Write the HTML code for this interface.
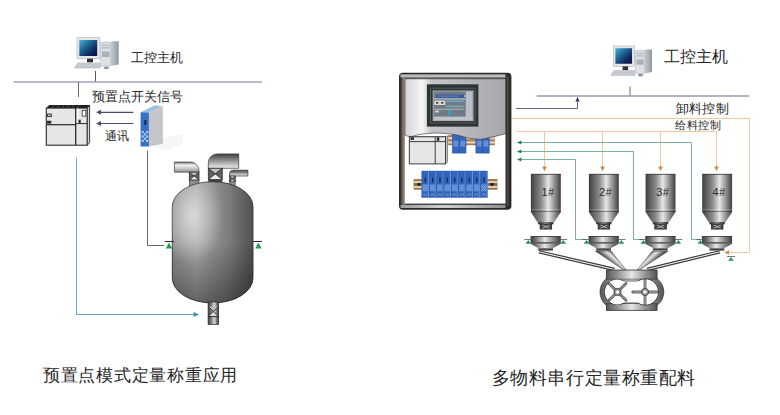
<!DOCTYPE html>
<html><head><meta charset="utf-8">
<style>
html,body{margin:0;padding:0;background:#fff;width:780px;height:415px;overflow:hidden}
svg{position:absolute;left:0;top:0}
.t{position:absolute;font-family:"Liberation Sans",sans-serif;color:#262626;font-weight:500;white-space:nowrap;line-height:1}
</style></head><body>
<svg width="780" height="415" viewBox="0 0 780 415">
<defs>
  <linearGradient id="metal" x1="0" x2="1" y1="0" y2="0">
    <stop offset="0" stop-color="#3c3c3c"/>
    <stop offset="0.25" stop-color="#707070"/>
    <stop offset="0.6" stop-color="#d8d8d8"/>
    <stop offset="0.85" stop-color="#6a6a6a"/>
    <stop offset="1" stop-color="#3a3a3a"/>
  </linearGradient>
  <linearGradient id="metalV" x1="0" x2="0" y1="0" y2="1">
    <stop offset="0" stop-color="#5a5a5a"/>
    <stop offset="0.5" stop-color="#e0e0e0"/>
    <stop offset="1" stop-color="#5a5a5a"/>
  </linearGradient>
  <radialGradient id="tank" cx="0.25" cy="0.3" r="0.9">
    <stop offset="0" stop-color="#ececec"/>
    <stop offset="0.45" stop-color="#8a8a8a"/>
    <stop offset="1" stop-color="#2e2e2e"/>
  </radialGradient>
  <linearGradient id="screen" x1="0" y1="0" x2="1" y2="1">
    <stop offset="0" stop-color="#3aa6cf"/>
    <stop offset="0.6" stop-color="#0c3c6a"/>
    <stop offset="1" stop-color="#0a1a40"/>
  </linearGradient>
  <linearGradient id="cabGray" x1="0" x2="1" y1="0" y2="0">
    <stop offset="0" stop-color="#c8c8cc"/>
    <stop offset="0.3" stop-color="#e8e8ea"/>
    <stop offset="1" stop-color="#a8a8ae"/>
  </linearGradient>
  <g id="pc">
    <linearGradient id="scr2" x1="0" y1="0" x2="1" y2="1">
      <stop offset="0" stop-color="#48b4d4"/>
      <stop offset="0.45" stop-color="#1a5a88"/>
      <stop offset="0.75" stop-color="#0c2458"/>
      <stop offset="1" stop-color="#12103a"/>
    </linearGradient>
    <linearGradient id="towSide" x1="0" y1="0" x2="1" y2="0">
      <stop offset="0" stop-color="#c6ccd2"/>
      <stop offset="1" stop-color="#8f98a2"/>
    </linearGradient>
    <rect x="5" y="3.7" width="23" height="21" fill="#e4e6e8" stroke="#b0b4b8" stroke-width="0.6"/>
    <rect x="7.3" y="6" width="17.9" height="16" fill="url(#scr2)"/>
    <rect x="15" y="24.7" width="6" height="3.8" fill="#2e3236"/>
    <path d="M2.3 33.4 L5.5 28.4 L28.2 28.4 L28.6 33.4 Z" fill="#c4cad0"/>
    <path d="M2.3 33.4 L28.6 33.4 L28.6 34.2 L2.8 34.2 Z" fill="#9aa2aa"/>
    <path d="M38.5 8.7 L40 7.3 L46.7 7.3 L46.7 30.5 L38.5 32 Z" fill="url(#towSide)"/>
    <path d="M28.8 8.7 L30.5 7.3 L40 7.3 L38.5 8.7 Z" fill="#e8ecf0"/>
    <rect x="28.8" y="8.7" width="9.7" height="23.3" fill="#dde1e5" stroke="#aab0b6" stroke-width="0.5"/>
    <rect x="30" y="10.5" width="7.5" height="1.6" fill="#b8bec4"/>
    <rect x="30" y="13" width="7.5" height="1.6" fill="#b8bec4"/>
    <rect x="30" y="17.5" width="7.5" height="5.5" fill="#a8b0b8"/>
    <ellipse cx="34.3" cy="33.8" rx="2.8" ry="1.4" fill="#8f98a2"/>
  </g>
</defs>

<!-- ================= LEFT ================= -->
<use href="#pc" x="72" y="34"/>
<line x1="95.5" y1="71" x2="95.5" y2="82" stroke="#555" stroke-width="1"/>
<line x1="13.5" y1="82" x2="262" y2="82" stroke="#a4a4ba" stroke-width="1.7"/>
<line x1="78.5" y1="82" x2="78.5" y2="97" stroke="#6a6a7a" stroke-width="1"/>

<!-- PLC -->
<g>
  <path d="M46.3 108.1 L49.2 105.1 L89.6 105.1 L87.3 108.1 Z" fill="#1e1e1e"/>
  <g stroke="#888" stroke-width="0.6"><path d="M52 107.8 L54 105.4 M57 107.8 L59 105.4 M62 107.8 L64 105.4 M67 107.8 L69 105.4 M72 107.8 L74 105.4 M77 107.8 L79 105.4"/></g>
  <rect x="46.3" y="108.1" width="41" height="37.1" fill="#e6e6e6" stroke="#2a2a2a" stroke-width="1.1"/>
  <path d="M87.3 108.1 L89.6 105.1 L89.6 142.6 L87.3 145.2 Z" fill="#d8d8d8" stroke="#2a2a2a" stroke-width="0.9"/>
  <line x1="75.7" y1="108.1" x2="75.7" y2="145.2" stroke="#2a2a2a" stroke-width="1.3"/>
  <line x1="46.3" y1="124.7" x2="75.7" y2="124.7" stroke="#2a2a2a" stroke-width="1.2"/>
  <line x1="75.7" y1="123.6" x2="87.3" y2="123.6" stroke="#2a2a2a" stroke-width="1"/>
  <rect x="47" y="113.6" width="4.8" height="3.4" fill="#2a2a2a"/>
  <rect x="47.8" y="114.5" width="3" height="1.6" fill="#ccc"/>
  <rect x="47" y="120.8" width="4.3" height="2.8" fill="#2a2a2a"/>
  <rect x="76.8" y="108.6" width="2" height="14.5" fill="#f4f4f4"/>
  <rect x="82.2" y="110.3" width="3.6" height="5.8" fill="#fff" stroke="#333" stroke-width="0.8"/>
  <rect x="78.5" y="119.7" width="2.2" height="3.3" fill="#2a2a2a"/>
</g>
<!-- arrows -->
<g stroke="#4a4a72" stroke-width="1.2" fill="#4a4a72">
  <line x1="99" y1="112.3" x2="133.3" y2="112.3"/>
  <path d="M96 112.3 L101 109.8 L101 114.8 Z" stroke="none"/>
  <line x1="99" y1="123.5" x2="133.3" y2="123.5"/>
  <path d="M96 123.5 L101 121 L101 126 Z" stroke="none"/>
</g>
<!-- blue device -->
<g>
  <path d="M150 146 L163 138 L183 134 L183 144 L166 150 Z" fill="#f6f6f6"/>
  <path d="M140.6 112.2 L154.9 105.3 L162.9 106.4 L148.9 112.6 Z" fill="#9cc0e0"/>
  <path d="M148.9 112.6 L162.9 106.4 L162.9 143.8 L148.9 146.4 Z" fill="#c4c6ca"/>
  <path d="M140.6 112.2 L148.9 112.6 L148.9 146.4 L140.6 146.4 Z" fill="#3470c4"/>
  <rect x="144.3" y="120" width="2" height="5" fill="#1a2a44"/>
  <g fill="#a8ccf0">
    <rect x="141.6" y="131" width="2.2" height="2.2"/><rect x="146" y="131" width="2.2" height="2.2"/>
    <rect x="143.8" y="133.2" width="2.2" height="2.2"/>
    <rect x="141.6" y="135.4" width="2.2" height="2.2"/><rect x="146" y="135.4" width="2.2" height="2.2"/>
    <rect x="143.8" y="137.6" width="2.2" height="2.2"/>
    <rect x="141.6" y="139.8" width="2.2" height="2.2"/><rect x="146" y="139.8" width="2.2" height="2.2"/>
  </g>
</g>
<!-- device to load cell line -->
<polyline points="147.5,150.5 147.5,245.5 164,245.5" fill="none" stroke="#666" stroke-width="1"/>

<!-- tank pipes -->
<defs>
  <linearGradient id="pipeL" x1="0" x2="0" y1="0" y2="1">
    <stop offset="0" stop-color="#6a6a6a"/>
    <stop offset="0.3" stop-color="#f2f2f2"/>
    <stop offset="0.7" stop-color="#c0c0c0"/>
    <stop offset="1" stop-color="#8a8a8a"/>
  </linearGradient>
  <linearGradient id="pipeD" x1="0" x2="0" y1="0" y2="1">
    <stop offset="0" stop-color="#3e3e3e"/>
    <stop offset="1" stop-color="#f0f0f0"/>
  </linearGradient>
  <linearGradient id="valveG" x1="0" x2="0" y1="0" y2="1">
    <stop offset="0" stop-color="#8a8a8a"/>
    <stop offset="1" stop-color="#5a5a5a"/>
  </linearGradient>
  <g id="valveX">
    <rect x="0" y="0" width="1" height="1" fill="#606060"/>
    <path d="M0 0 L1 0 L0.5 0.5 Z" fill="#c4c4c4"/>
    <path d="M0 1 L1 1 L0.5 0.5 Z" fill="#ececec"/>
  </g>
</defs>
<g>
  <!-- left pipe -->
  <path d="M174.4 162 L190.5 162 A8.5 8.5 0 0 1 199 170.5 L199 172.2 L189.3 172.2 L174.4 172.2 Z" fill="url(#pipeL)" stroke="#444" stroke-width="0.7"/>
  <rect x="189.3" y="179.9" width="9.7" height="5.8" fill="#8e8e8e" stroke="#444" stroke-width="0.7"/>
  <g transform="translate(189.3 172.2) scale(9.7 7.7)"><use href="#valveX"/></g>
  <path d="M189.3 172.2 L199 179.9 M199 172.2 L189.3 179.9" stroke="#333" stroke-width="0.8"/>
  <rect x="189.3" y="172.2" width="9.7" height="7.7" fill="none" stroke="#333" stroke-width="0.8"/>
  <!-- middle pipe -->
  <path d="M208.3 168.3 L208.3 163 A9 9 0 0 1 217.3 153.9 L238.7 153.9 L238.7 168.3 Z" fill="url(#pipeD)" stroke="#333" stroke-width="0.7"/>
  <g transform="translate(208.3 168.3) scale(14 11.1)"><use href="#valveX"/></g>
  <path d="M208.3 168.3 L222.3 179.4 M222.3 168.3 L208.3 179.4" stroke="#222" stroke-width="0.8"/>
  <rect x="208.3" y="168.3" width="14" height="11.1" fill="none" stroke="#333" stroke-width="0.8"/>
  <rect x="208.3" y="179.4" width="14" height="2.6" fill="#444"/>
  <!-- right pipe -->
  <path d="M229.5 176 L229.5 174 Q229.5 170.2 233.3 170.2 L247.9 170.2 L247.9 176 Z" fill="url(#pipeD)" stroke="#333" stroke-width="0.7"/>
  <g transform="translate(229.5 176) scale(5.8 5.8)"><use href="#valveX"/></g>
  <path d="M229.5 176 L235.3 181.8 M235.3 176 L229.5 181.8" stroke="#222" stroke-width="0.7"/>
  <rect x="229.5" y="176" width="5.8" height="5.8" fill="none" stroke="#333" stroke-width="0.7"/>
  <rect x="229.5" y="181.8" width="5.8" height="3.6" fill="#8a8a8a" stroke="#444" stroke-width="0.5"/>
</g>
<!-- tank body -->
<defs>
  <linearGradient id="tank2" x1="0" x2="1" y1="0" y2="0">
    <stop offset="0" stop-color="#8c8c8c"/>
    <stop offset="0.3" stop-color="#a6a6a6"/>
    <stop offset="0.7" stop-color="#7c7c7c"/>
    <stop offset="1" stop-color="#505050"/>
  </linearGradient>
  <radialGradient id="tankHi" cx="0.24" cy="0.28" r="0.4">
    <stop offset="0" stop-color="#fff" stop-opacity="0.6"/>
    <stop offset="1" stop-color="#fff" stop-opacity="0"/>
  </radialGradient>
  <linearGradient id="tankShade" x1="0" x2="0" y1="0" y2="1">
    <stop offset="0" stop-color="#000" stop-opacity="0"/>
    <stop offset="0.5" stop-color="#000" stop-opacity="0"/>
    <stop offset="1" stop-color="#000" stop-opacity="0.4"/>
  </linearGradient>
</defs>
<path id="tankP" d="M172.3 206.7 A40.35 25 0 0 1 253 206.7 L253 278 A40.35 25 0 0 1 172.3 278 Z" fill="url(#tank2)" stroke="#333" stroke-width="0.9"/>
<path d="M172.3 206.7 A40.35 25 0 0 1 253 206.7 L253 278 A40.35 25 0 0 1 172.3 278 Z" fill="url(#tankHi)"/>
<path d="M172.3 206.7 A40.35 25 0 0 1 253 206.7 L253 278 A40.35 25 0 0 1 172.3 278 Z" fill="url(#tankShade)"/>
<!-- bottom pipe -->
<rect x="208.1" y="302" width="10.5" height="22.5" fill="url(#metal)" stroke="#2e2e2e" stroke-width="0.7"/>
<path d="M208.5 306.4 L218.2 306.4 L213.35 311.4 Z" fill="#bcbcbc"/>
<path d="M208.5 316.4 L218.2 316.4 L213.35 311.4 Z" fill="#d8d8d8"/>
<path d="M208.1 306.4 L218.6 316.5 M218.6 306.4 L208.1 316.5" stroke="#222" stroke-width="0.8"/>
<line x1="208.1" y1="316.6" x2="218.6" y2="316.6" stroke="#222" stroke-width="0.9"/>
<!-- supports -->
<g>
  <line x1="164.9" y1="241.5" x2="174" y2="241.5" stroke="#2e2e2e" stroke-width="1"/>
  <path d="M169 242.4 L165.8 248.4 L172.2 248.4 Z" fill="#239a55"/>
  <line x1="253" y1="241.5" x2="262" y2="241.5" stroke="#2e2e2e" stroke-width="1"/>
  <path d="M258.4 242.4 L255.2 248.4 L261.6 248.4 Z" fill="#239a55"/>
</g>
<!-- blue line -->
<polyline points="76.5,157.5 76.5,314.5 196,314.5" fill="none" stroke="#68a8d8" stroke-width="1"/>
<path d="M199 314.5 L193.5 312 L193.5 317 Z" fill="#3a8cb8"/>

<!-- ================= RIGHT ================= -->
<use href="#pc" transform="translate(608.6 42.4) scale(0.93 0.97)"/>
<line x1="630" y1="86.5" x2="630" y2="96" stroke="#666" stroke-width="1"/>
<line x1="536.7" y1="96" x2="749" y2="96" stroke="#9898b0" stroke-width="1.7"/>
<polyline points="516,108.5 577.5,108.5 577.5,100" fill="none" stroke="#66668c" stroke-width="1"/>
<path d="M577.5 97 L575.3 101.5 L579.7 101.5 Z" fill="#3a3a66"/>

<!-- orange lines -->
<g stroke="#f4c6a0" stroke-width="1" fill="none">
  <polyline points="511.7,118.5 749.5,118.5 749.5,252.5 728,252.5"/>
  <line x1="516" y1="131.5" x2="716.5" y2="131.5"/>
  <line x1="544.5" y1="131.5" x2="544.5" y2="167"/>
  <line x1="602.5" y1="131.5" x2="602.5" y2="167"/>
  <line x1="660.5" y1="131.5" x2="660.5" y2="167"/>
  <line x1="716.5" y1="131.5" x2="716.5" y2="167"/>
</g>
<g fill="#d08848">
  <path d="M544.5 171.3 L542.2 166.5 L546.8 166.5 Z"/>
  <path d="M602.5 171.3 L600.2 166.5 L604.8 166.5 Z"/>
  <path d="M660.5 171.3 L658.2 166.5 L662.8 166.5 Z"/>
  <path d="M716.5 171.3 L714.2 166.5 L718.8 166.5 Z"/>
  <path d="M724.3 252.5 L729 250.2 L729 254.8 Z"/>
</g>
<!-- green lines -->
<g stroke="#78b494" stroke-width="1" fill="none">
  <polyline points="520,142.5 691.5,142.5 691.5,239.5 700,239.5"/>
  <polyline points="520,151.5 633.5,151.5 633.5,239.5 643,239.5"/>
  <polyline points="520,159.5 575.5,159.5 575.5,239.5 586,239.5"/>
</g>
<g fill="#2a7a4e">
  <path d="M517 142.5 L521.4 140.5 L521.4 144.5 Z"/>
  <path d="M517 151.5 L521.4 149.5 L521.4 153.5 Z"/>
  <path d="M517 159.5 L521.4 157.5 L521.4 161.5 Z"/>
</g>

<!-- cabinet -->
<defs>
  <linearGradient id="bevL" x1="0" x2="1" y1="0" y2="0">
    <stop offset="0" stop-color="#3a302a"/><stop offset="1" stop-color="#a8a29c"/>
  </linearGradient>
  <linearGradient id="bevT" x1="0" x2="0" y1="0" y2="1">
    <stop offset="0" stop-color="#9a9a9a"/><stop offset="0.5" stop-color="#c8c8c8"/><stop offset="1" stop-color="#a0a0a0"/>
  </linearGradient>
  <linearGradient id="bevB" x1="0" x2="1" y1="0" y2="0">
    <stop offset="0" stop-color="#9c9c9c"/><stop offset="0.4" stop-color="#d0d0d0"/><stop offset="1" stop-color="#8e8e8e"/>
  </linearGradient>
  <linearGradient id="panelG" x1="0" x2="1" y1="0" y2="0">
    <stop offset="0" stop-color="#d4d4d6"/><stop offset="0.17" stop-color="#f6f6f6"/><stop offset="0.26" stop-color="#c8c8cc"/><stop offset="0.6" stop-color="#b8b8bc"/><stop offset="1" stop-color="#a8a8ac"/>
  </linearGradient>
  <pattern id="chk" width="2.4" height="2.4" patternUnits="userSpaceOnUse">
    <rect width="2.4" height="2.4" fill="#3a6cc4"/>
    <rect width="1.2" height="1.2" fill="#8cb4ec"/><rect x="1.2" y="1.2" width="1.2" height="1.2" fill="#8cb4ec"/>
  </pattern>
  <g id="mod">
    <rect x="0" y="0" width="7.33" height="26.9" fill="#3364bc"/>
    <rect x="6.4" y="0" width="0.9" height="26.9" fill="#6a9ae0"/>
    <rect x="0" y="0" width="0.5" height="26.9" fill="#24509a"/>
    <rect x="3" y="6.5" width="1.3" height="5.3" rx="0.6" fill="#142a5a"/>
    <rect x="0.8" y="13.6" width="5.4" height="6.8" fill="url(#chk)"/>
    <rect x="1.3" y="22.8" width="4.5" height="1.8" fill="#5a88c8"/>
  </g>
  <g id="mod2">
    <rect x="0" y="0" width="6.8" height="19.4" fill="#3468c0" stroke="#244a90" stroke-width="0.5"/>
    <rect x="1" y="7" width="4.8" height="6" fill="url(#chk)"/>
  </g>
</defs>
<g>
  <rect x="399" y="72.8" width="112.4" height="136.9" rx="4" fill="#2c2826"/>
  <rect x="400.5" y="74.2" width="105" height="3.5" fill="url(#bevT)"/>
  <rect x="400.5" y="204.8" width="105" height="3.2" fill="url(#bevB)"/>
  <rect x="400.3" y="77.7" width="4.7" height="127" fill="url(#bevL)"/>
  <rect x="506.6" y="76" width="2.2" height="130" fill="#4a4542"/>
  <rect x="405" y="78.8" width="100.5" height="124.8" fill="#fff"/>
  <!-- upper rail + modules (behind panel) -->
  <rect x="448.1" y="135.1" width="46.7" height="10.1" fill="#a07a54"/>
  <rect x="448.1" y="137" width="46.7" height="2.4" fill="#e6d2b4"/>
  <rect x="448.1" y="141.3" width="46.7" height="2.2" fill="#e6d2b4"/>
  <g transform="translate(452.4 133.7)"><use href="#mod2"/></g>
  <g transform="translate(459.2 133.7)"><use href="#mod2"/></g>
  <g transform="translate(475.9 133.7)"><use href="#mod2"/></g>
  <g transform="translate(482.4 133.7)"><use href="#mod2"/></g>
  <!-- panel -->
  <path d="M405 78.8 L505.5 78.8 L505.5 133.7 Q494 137 480.5 139.4 Q468 139 459 135.5 Q450 133.2 436 133 Q420 133.5 411.5 136.6 Q407 136.5 405 135.1 Z" fill="url(#panelG)" stroke="#333" stroke-width="0.6"/>
  <!-- HMI -->
  <rect x="426.9" y="84.3" width="51.5" height="42.3" fill="#2e3436"/>
  <rect x="430.5" y="88.2" width="44.6" height="34.8" fill="none" stroke="#59646a" stroke-width="0.8"/>
  <rect x="432.7" y="90.5" width="40.8" height="30.6" fill="#b4b8bc"/>
  <rect x="433.6" y="91.4" width="39" height="28.8" fill="#707a86"/>
  <rect x="465.6" y="91.4" width="7" height="28.8" fill="#b4b8c4"/>
  <rect x="467.5" y="92" width="0.6" height="24" fill="#d4d8e0"/>
  <rect x="470" y="92" width="0.6" height="24" fill="#d4d8e0"/>
  <rect x="433.6" y="116.6" width="39" height="3.6" fill="#c0c4c8"/>
  <rect x="436" y="94.5" width="29.6" height="3.5" fill="#3c5a98"/>
  <rect x="438" y="95.6" width="20" height="1" fill="#6a88c0"/>
  <rect x="464" y="95.4" width="1.6" height="1.4" fill="#e8eef4"/>
  <rect x="434" y="98" width="31.6" height="1.7" fill="#a0a8b0"/>
  <rect x="434.3" y="100.6" width="10.9" height="4.4" fill="#e2dcd4"/>
  <rect x="436" y="102" width="2.4" height="1.6" fill="#3a3a3a"/><rect x="441" y="102" width="2.4" height="1.6" fill="#3a3a3a"/>
  <rect x="445.6" y="100.2" width="18.5" height="2" fill="#72a2b2"/>
  <rect x="445.6" y="105.4" width="18.5" height="2" fill="#7aa0a8"/>
  <rect x="434.5" y="108.7" width="29" height="1.2" fill="#a8acb4"/>
  <rect x="435" y="110.5" width="4" height="2" fill="#d0d0d0"/>
  <rect x="447.8" y="110" width="3" height="5" fill="#30a2c4"/>
  <rect x="462.5" y="111.7" width="1.2" height="1.2" fill="#b04848"/>
  <!-- small PLC -->
  <path d="M409.3 136.8 L445.5 136.8 L447.4 135.8 L447.4 162 L445.5 163.9 Z" fill="#d0d0d0" stroke="#333" stroke-width="0.6"/>
  <rect x="409.3" y="136.8" width="36.2" height="27.1" fill="#e6e6e6" stroke="#2a2a2a" stroke-width="0.9"/>
  <line x1="409.3" y1="141.6" x2="445.5" y2="141.6" stroke="#2a2a2a" stroke-width="0.9"/>
  <line x1="435.2" y1="136.8" x2="435.2" y2="163.9" stroke="#2a2a2a" stroke-width="0.9"/>
  <rect x="410.5" y="137.3" width="3.5" height="2.6" fill="#2a2a2a"/>
  <rect x="436.8" y="137.3" width="2.5" height="3.5" fill="#2a2a2a"/>
  <!-- lower rail + modules -->
  <rect x="413.6" y="179.2" width="83.8" height="10.4" fill="#8a6440"/>
  <rect x="413.6" y="180.8" width="83.8" height="2.3" fill="#e2cdb0"/>
  <rect x="413.6" y="185.8" width="83.8" height="2.3" fill="#e2cdb0"/>
  <rect x="417.5" y="183.2" width="3" height="2.4" fill="#111"/>
  <rect x="490.5" y="183.2" width="3" height="2.4" fill="#111"/>
  <g transform="translate(421.70 170.8)"><use href="#mod"/></g><g transform="translate(429.03 170.8)"><use href="#mod"/></g><g transform="translate(436.36 170.8)"><use href="#mod"/></g><g transform="translate(443.69 170.8)"><use href="#mod"/></g><g transform="translate(451.02 170.8)"><use href="#mod"/></g><g transform="translate(458.35 170.8)"><use href="#mod"/></g><g transform="translate(465.68 170.8)"><use href="#mod"/></g><g transform="translate(473.01 170.8)"><use href="#mod"/></g><g transform="translate(480.34 170.8)"><use href="#mod"/></g>
</g>
<!-- hoppers -->
<defs>
  <linearGradient id="hm" x1="0" x2="1" y1="0" y2="0">
    <stop offset="0" stop-color="#3c3c3c"/>
    <stop offset="0.12" stop-color="#5a5a5a"/>
    <stop offset="0.35" stop-color="#8c8c8c"/>
    <stop offset="0.58" stop-color="#e6e6e6"/>
    <stop offset="0.8" stop-color="#8e8e8e"/>
    <stop offset="1" stop-color="#404040"/>
  </linearGradient>
  <linearGradient id="hmD" x1="0" x2="1" y1="0" y2="0">
    <stop offset="0" stop-color="#2e2e2e"/>
    <stop offset="0.5" stop-color="#8a8a8a"/>
    <stop offset="1" stop-color="#2e2e2e"/>
  </linearGradient>
  <linearGradient id="hmW" x1="0" x2="1" y1="0" y2="0">
    <stop offset="0" stop-color="#3c3c3c"/>
    <stop offset="0.15" stop-color="#6a6a6a"/>
    <stop offset="0.47" stop-color="#e8e8e8"/>
    <stop offset="0.75" stop-color="#8a8a8a"/>
    <stop offset="1" stop-color="#3a3a3a"/>
  </linearGradient>
  <g id="hop">
    <rect x="0" y="0" width="29.9" height="35.8" fill="url(#hm)"/>
    <rect x="0" y="0" width="29.9" height="0.8" fill="#3a3a3a"/>
    <rect x="0" y="35.8" width="29.9" height="2.3" fill="url(#hm)"/>
    <rect x="0" y="37.6" width="29.9" height="0.7" fill="#333"/>
    <path d="M0 38.1 L29.9 38.1 L23.4 48.1 L6.4 48.1 Z" fill="url(#hm)"/>
    <rect x="7.2" y="48.1" width="15.4" height="2.3" fill="url(#hmD)"/>
    <rect x="9.2" y="50.3" width="11.6" height="4.9" fill="#4a4a4a" stroke="#1e1e1e" stroke-width="0.7"/>
    <path d="M11.5 51.2 L18.5 54.3 M18.5 51.2 L11.5 54.3" stroke="#c8c8c8" stroke-width="0.8"/>
    <!-- weigh hopper -->
    <rect x="-0.3" y="62.3" width="30.2" height="6.3" fill="url(#hmW)"/>
    <rect x="-0.3" y="62.3" width="30.2" height="0.8" fill="#333"/>
    <rect x="-0.3" y="68.4" width="30.2" height="1.4" fill="#2e2e2e"/>
    <path d="M-0.3 69.8 L29.9 69.8 L22 74.4 L7.5 74.4 Z" fill="url(#hmW)"/>
    <rect x="7.3" y="74.4" width="14.8" height="2.3" fill="#444"/>
  </g>
  <g id="sup">
    <line x1="-4" y1="0" x2="4" y2="0" stroke="#555" stroke-width="0.8"/>
    <path d="M0 0.6 L-2.8 4.3 L2.8 4.3 Z" fill="#2e9060"/>
  </g>
</defs>
<use href="#hop" x="530.9" y="173.9"/>
<use href="#hop" x="588.9" y="173.9"/>
<use href="#hop" x="645.6" y="173.9"/>
<use href="#hop" x="702.2" y="173.9"/>
<use href="#sup" x="528.3" y="239.5"/>
<use href="#sup" x="563.2" y="239.5"/>
<use href="#sup" x="586.5" y="239.5"/>
<use href="#sup" x="621.4" y="239.5"/>
<use href="#sup" x="643.4" y="239.5"/>
<use href="#sup" x="678.3" y="239.5"/>
<use href="#sup" x="700.3" y="239.5"/>
<use href="#sup" x="731" y="256.5"/>

<!-- chutes -->
<defs>
  <linearGradient id="coneL" gradientUnits="userSpaceOnUse" x1="610.6" y1="264.2" x2="617.2" y2="256.6">
    <stop offset="0" stop-color="#2a2a2a"/>
    <stop offset="0.25" stop-color="#707070"/>
    <stop offset="0.65" stop-color="#e2e2e2"/>
    <stop offset="0.88" stop-color="#a8a8a8"/>
    <stop offset="1" stop-color="#3a3a3a"/>
  </linearGradient>
  <linearGradient id="coneR" gradientUnits="userSpaceOnUse" x1="653.2" y1="264.1" x2="646.6" y2="256.7">
    <stop offset="0" stop-color="#2a2a2a"/>
    <stop offset="0.25" stop-color="#707070"/>
    <stop offset="0.65" stop-color="#e2e2e2"/>
    <stop offset="0.88" stop-color="#a8a8a8"/>
    <stop offset="1" stop-color="#3a3a3a"/>
  </linearGradient>
</defs>
<g fill="none" stroke="#3a3a3a" stroke-width="3.4">
  <line x1="539" y1="251.8" x2="614.5" y2="269.5"/>
  <line x1="719.7" y1="251.8" x2="647" y2="269.5"/>
</g>
<g fill="none" stroke="#f0f0f0" stroke-width="1.1">
  <line x1="539" y1="251.8" x2="614.5" y2="269.5"/>
  <line x1="719.7" y1="251.8" x2="647" y2="269.5"/>
</g>
<path d="M595.4 251 L611 251 L626 269.8 L623.4 269.8 Z" fill="url(#coneL)" stroke="#333" stroke-width="0.5"/>
<path d="M652.3 251.3 L667.8 251.3 L639.6 269.8 L637.2 269.8 Z" fill="url(#coneR)" stroke="#333" stroke-width="0.5"/>

<!-- mixer -->
<defs>
  <linearGradient id="mxG" x1="0" x2="1" y1="0" y2="0">
    <stop offset="0" stop-color="#585858"/>
    <stop offset="0.2" stop-color="#8c8c8c"/>
    <stop offset="0.5" stop-color="#e6e6e6"/>
    <stop offset="0.8" stop-color="#8c8c8c"/>
    <stop offset="1" stop-color="#545454"/>
  </linearGradient>
  <radialGradient id="hsG" cx="0.5" cy="0.5" r="0.5">
    <stop offset="0.6" stop-color="#8a8a8a"/>
    <stop offset="1" stop-color="#4a4a4a"/>
  </radialGradient>
</defs>
<g>
  <rect x="606.3" y="270.1" width="50.7" height="9" fill="url(#mxG)" stroke="#333" stroke-width="0.6"/>
  <rect x="606.3" y="303.6" width="50.7" height="6.6" fill="url(#mxG)" stroke="#333" stroke-width="0.6"/>
  <path d="M617.5 274.5 L645 274.5 A18.8 17.5 0 0 1 645 309.5 L617.5 309.5 A17.5 17.5 0 0 1 617.5 274.5 Z" fill="url(#mxG)" stroke="#333" stroke-width="0.7"/>
  <rect x="606.3" y="303.6" width="50.7" height="6.6" fill="url(#mxG)" stroke="#333" stroke-width="0.6"/>
  <rect x="606.3" y="270.1" width="50.7" height="9" fill="url(#mxG)" stroke="#333" stroke-width="0.6"/>
  <g stroke="#333" stroke-width="1.4" fill="#fff"><circle cx="617.2" cy="292" r="12.4"/><circle cx="645.3" cy="292" r="12.8"/><rect x="617" y="281.4" width="28" height="21.2"/></g>
  <g fill="#fff"><circle cx="617.2" cy="292" r="12.4"/><circle cx="645.3" cy="292" r="12.8"/><rect x="617" y="281.4" width="28" height="21.2"/></g>
  <g stroke="#5a5a5a" stroke-width="2.8" stroke-linecap="round">
    <path d="M609 283.6 L626 300.2 M626 283.6 L609 300.2"/>
    <path d="M632.8 292 L657.4 292 M645 280 L645 304"/>
  </g>
  <g stroke="#d4d4d4" stroke-width="0.8">
    <path d="M609 283.6 L626 300.2 M626 283.6 L609 300.2"/>
    <path d="M632.8 292 L657.4 292 M645 280 L645 304"/>
  </g>
  <circle cx="617.5" cy="291.9" r="3.6" fill="#9a9a9a" stroke="#333" stroke-width="0.8"/>
  <circle cx="617.5" cy="291.9" r="1.5" fill="#fff"/>
  <circle cx="645" cy="292" r="3.6" fill="#9a9a9a" stroke="#333" stroke-width="0.8"/>
  <circle cx="645" cy="292" r="1.5" fill="#fff"/>
</g>
</svg>

<div class="t" style="left:130.5px;top:50.8px;font-size:13px;letter-spacing:0.15px">工控主机</div>
<div class="t" style="left:91.5px;top:90.3px;font-size:13px;letter-spacing:0.15px">预置点开关信号</div>
<div class="t" style="left:105px;top:130px;font-size:12px;letter-spacing:0px">通讯</div>
<div class="t" style="left:42.8px;top:367.2px;font-size:17px;letter-spacing:0.75px">预置点模式定量称重应用</div>

<div class="t" style="left:663.5px;top:48.5px;font-size:16px">工控主机</div>
<div class="t" style="left:675.8px;top:102.4px;font-size:13px;letter-spacing:0.3px">卸料控制</div>
<div class="t" style="left:674.8px;top:119.7px;font-size:11px;letter-spacing:0.75px">给料控制</div>
<div class="t" style="left:541.5px;top:187px;font-size:11px;letter-spacing:0.4px;color:#2a2a2a">1#</div>
<div class="t" style="left:599px;top:187px;font-size:11px;letter-spacing:0.4px;color:#2a2a2a">2#</div>
<div class="t" style="left:656.2px;top:187px;font-size:11px;letter-spacing:0.4px;color:#2a2a2a">3#</div>
<div class="t" style="left:712.5px;top:187px;font-size:11px;letter-spacing:0.4px;color:#2a2a2a">4#</div>
<div class="t" style="left:491.8px;top:368.6px;font-size:18px;letter-spacing:0.55px">多物料串行定量称重配料</div>
</body></html>
